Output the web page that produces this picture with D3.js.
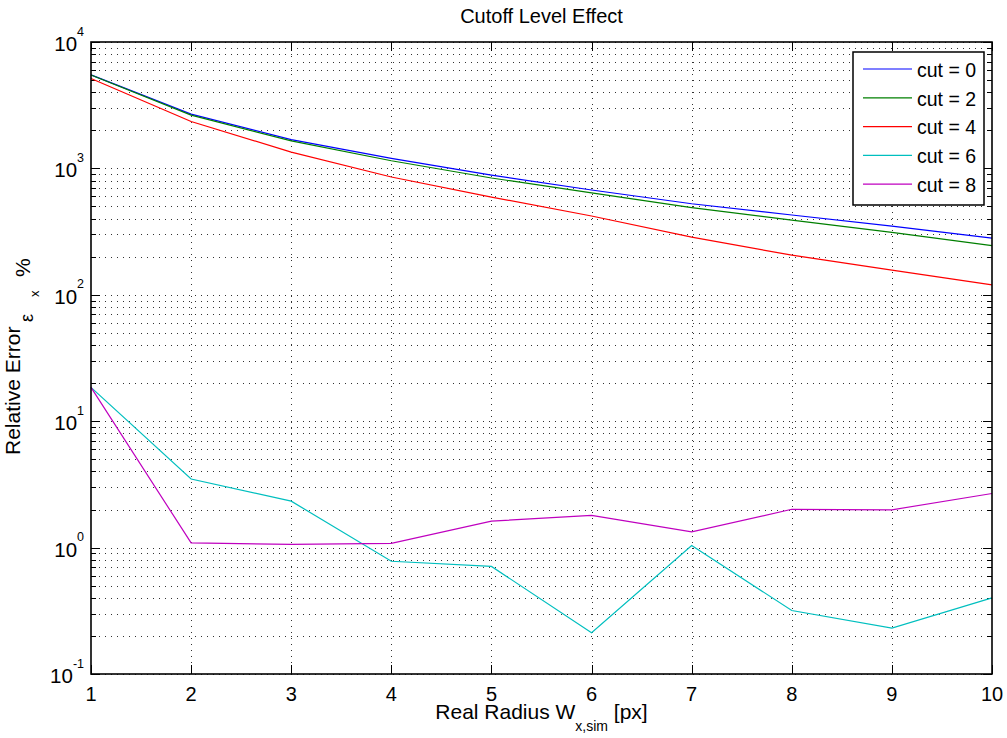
<!DOCTYPE html>
<html>
<head>
  <script src="https://d3js.org/d3.v7.min.js"></script>
  <style type="text/css">
    body { margin: 0; background: #fff; }
    text { font-family: "Liberation Sans", Arial, sans-serif; fill: #000; }
  </style>
</head>
<body>
<svg id="chart" width="1007" height="738"></svg>
<script type="text/javascript">
// data
const radius = [1, 2, 3, 4, 5, 6, 7, 8, 9, 10];
const cut0 = [5500, 2690, 1690, 1200, 885, 675, 525, 428, 350, 281];
const cut2 = [5480, 2640, 1650, 1150, 840, 640, 490, 390, 312, 245];
const cut4 = [5150, 2350, 1345, 855, 593, 420, 286, 206, 157, 120];
const cut6 = [18.5, 3.49, 2.33, 0.78, 0.71, 0.212, 1.04, 0.318, 0.231, 0.40];
const cut8 = [18.5, 1.09, 1.06, 1.08, 1.62, 1.80, 1.33, 2.01, 1.99, 2.68];
const seriesNames = ['cut = 0', 'cut = 2', 'cut = 4', 'cut = 6', 'cut = 8'];
const seriesColors = ['#0000ff', '#007f00', '#ff0000', '#00bfbf', '#bf00bf'];
const yExponents = [-1, 0, 1, 2, 3, 4];

const series = [cut0, cut2, cut4, cut6, cut8];

const svg = d3.select('#chart');
const pLeft = 91, pRight = 992, pTop = 42, pBottom = 674;

const x = d3.scaleLinear().domain([1, 10]).range([pLeft, pRight]);
const y = d3.scaleLog().domain([0.1, 10000]).range([pBottom, pTop]);

// grid
const grid = svg.append('g').attr('stroke', '#000').attr('stroke-width', 1)
  .attr('stroke-dasharray', '1,5').attr('opacity', 0.8);
const minorVals = [];
for (let e = -1; e < 4; e++) {
  for (let m = 1; m < 10; m++) minorVals.push(m * Math.pow(10, e));
}
minorVals.push(10000);
grid.selectAll('.gy').data(minorVals).enter().append('line')
  .attr('x1', pLeft + 2).attr('x2', pRight)
  .attr('y1', d => Math.round(y(d)) + 0.5).attr('y2', d => Math.round(y(d)) + 0.5);
grid.selectAll('.gx').data(radius.slice(1, -1)).enter().append('line')
  .attr('y1', pTop + 2).attr('y2', pBottom)
  .attr('x1', d => Math.round(x(d)) + 0.5).attr('x2', d => Math.round(x(d)) + 0.5);

// ticks inside the frame
const ticks = svg.append('g').attr('stroke', '#000').attr('stroke-width', 1);
minorVals.forEach(v => {
  const lg10 = Math.log10(v);
  const major = Math.abs(lg10 - Math.round(lg10)) < 1e-9;
  const len = major ? 9 : 5;
  const yy = Math.round(y(v)) + 0.5;
  ticks.append('line').attr('x1', pLeft).attr('x2', pLeft + len).attr('y1', yy).attr('y2', yy);
  ticks.append('line').attr('x1', pRight - len).attr('x2', pRight).attr('y1', yy).attr('y2', yy);
});
radius.forEach(v => {
  const xx = Math.round(x(v)) + 0.5;
  ticks.append('line').attr('x1', xx).attr('x2', xx).attr('y1', pBottom).attr('y2', pBottom - 9);
  ticks.append('line').attr('x1', xx).attr('x2', xx).attr('y1', pTop).attr('y2', pTop + 9);
});

// lines
const line = d3.line().x((d, i) => x(radius[i])).y(d => y(d));
svg.append('g').selectAll('path').data(series).enter().append('path')
  .attr('d', line)
  .attr('fill', 'none')
  .attr('stroke', (d, i) => seriesColors[i])
  .attr('stroke-width', 1.2);

// frame
svg.append('rect').attr('x', pLeft).attr('y', pTop)
  .attr('width', pRight - pLeft).attr('height', pBottom - pTop)
  .attr('fill', 'none').attr('stroke', '#000').attr('stroke-width', 1.6);

// x tick labels
svg.append('g').selectAll('text').data(radius).enter().append('text')
  .attr('x', d => x(d)).attr('y', pBottom + 26.5)
  .attr('text-anchor', 'middle').attr('font-size', 20)
  .text(d => d);

// y tick labels
const yl = svg.append('g');
yExponents.forEach(e => {
  const t = yl.append('text').attr('x', 84).attr('y', y(Math.pow(10, e)) + 9)
    .attr('text-anchor', 'end').attr('font-size', 20.5);
  t.append('tspan').text('10');
  t.append('tspan').attr('dy', -15.5).attr('font-size', 12.5).text(e);
});

// title
const cx = (pLeft + pRight) / 2;
svg.append('text').attr('x', cx).attr('y', 22.5)
  .attr('text-anchor', 'middle').attr('font-size', 20)
  .text('Cutoff Level Effect');

// x label
const xlab = svg.append('text').attr('x', cx).attr('y', 719)
  .attr('text-anchor', 'middle').attr('font-size', 21);
xlab.append('tspan').text('Real Radius W');
xlab.append('tspan').attr('dy', 12).attr('font-size', 14).text('x,sim');
xlab.append('tspan').attr('dy', -12).text(' [px]');

// y label (rotated group: local u = -screenY, v = screenX)
const ylab = svg.append('g').attr('transform', 'rotate(-90)');
ylab.append('text').attr('x', -455).attr('y', 20).attr('font-size', 21).text('Relative Error');
ylab.append('text').attr('x', -322).attr('y', 32.5).attr('font-size', 18).text('ε');
ylab.append('text').attr('x', -297).attr('y', 38.5).attr('font-size', 13).text('x');
ylab.append('text').attr('x', -277).attr('y', 30).attr('font-size', 21).text('%');

// legend
const lg = svg.append('g');
lg.append('rect').attr('x', 853).attr('y', 52).attr('width', 131).attr('height', 153)
  .attr('fill', '#fff').attr('stroke', '#000').attr('stroke-width', 1.5);
seriesNames.forEach((n, i) => {
  const yy = 69 + i * 28.8;
  lg.append('line').attr('x1', 863).attr('x2', 912).attr('y1', yy).attr('y2', yy)
    .attr('stroke', seriesColors[i]).attr('stroke-width', 1.2);
  lg.append('text').attr('x', 917).attr('y', yy + 7.7).attr('font-size', 19.5)
    .text(n);
});
</script>
</body>
</html>
